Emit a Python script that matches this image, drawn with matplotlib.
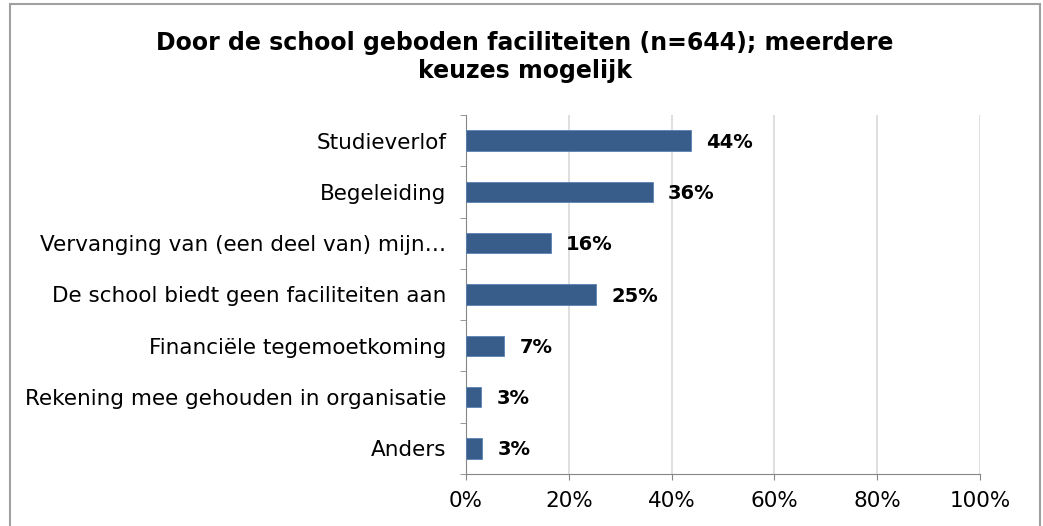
import numpy as np
import matplotlib.pyplot as plt
from matplotlib.patches import Rectangle

categories = ['Studieverlof', 'Begeleiding', 'Vervanging van (een deel van) mijn\u2026',
              'De school biedt geen faciliteiten aan', 'Financi\u00eble tegemoetkoming',
              'Rekening mee gehouden in organisatie', 'Anders']
values = [0.437, 0.363, 0.165, 0.253, 0.074, 0.030, 0.032]
labels = ['44%', '36%', '16%', '25%', '7%', '3%', '3%']
xticks = [0, 0.2, 0.4, 0.6, 0.8, 1.0]
xticklabels = ['0%', '20%', '40%', '60%', '80%', '100%']

W, H = 1043, 526
fig = plt.figure(figsize=(W/100, H/100), dpi=100)
ax = fig.add_axes([466/W, 1-474/H, (980-466)/W, (474-115)/H])

y = np.arange(len(categories))
ax.barh(y, values, height=0.4, color='#385D8A', edgecolor='#5B82B5', linewidth=0.6, zorder=3)
for yi, v, lab in zip(y, values, labels):
    ax.text(v + 0.03, yi + 0.03, lab, va='center', ha='left', fontsize=14, fontweight='bold', zorder=4)

ax.set_ylim(len(categories)-0.5, -0.5)
ax.set_xlim(0, 1)
ax.set_yticks(y)
ax.set_yticklabels(categories, fontsize=15.5)
ax.set_yticks(np.arange(-0.5, len(categories)), minor=True)
ax.tick_params(axis='y', which='major', length=0, pad=14)
ax.tick_params(axis='y', which='minor', length=4.5, color='#868686', direction='out')
ax.set_xticks(xticks)
ax.set_xticklabels(xticklabels, fontsize=15.5)
ax.tick_params(axis='x', length=4.5, color='#868686', pad=8)
ax.grid(axis='x', color='#D9D9D9', linewidth=1.2, zorder=0)
for s in ['top', 'right']:
    ax.spines[s].set_visible(False)
for s in ['left', 'bottom']:
    ax.spines[s].set_color('#868686')

fig.text(525/W, 1-57/H, 'Door de school geboden faciliteiten (n=644); meerdere\nkeuzes mogelijk',
         ha='center', va='center', fontsize=17, fontweight='bold', linespacing=1.2)

fig.patches.append(Rectangle((10/W, -0.1), (1040-10)/W, 1.1-4/H, transform=fig.transFigure,
                             fill=False, edgecolor='#A0A0A0', linewidth=1.5))

fig.savefig('out.png', dpi=100)
